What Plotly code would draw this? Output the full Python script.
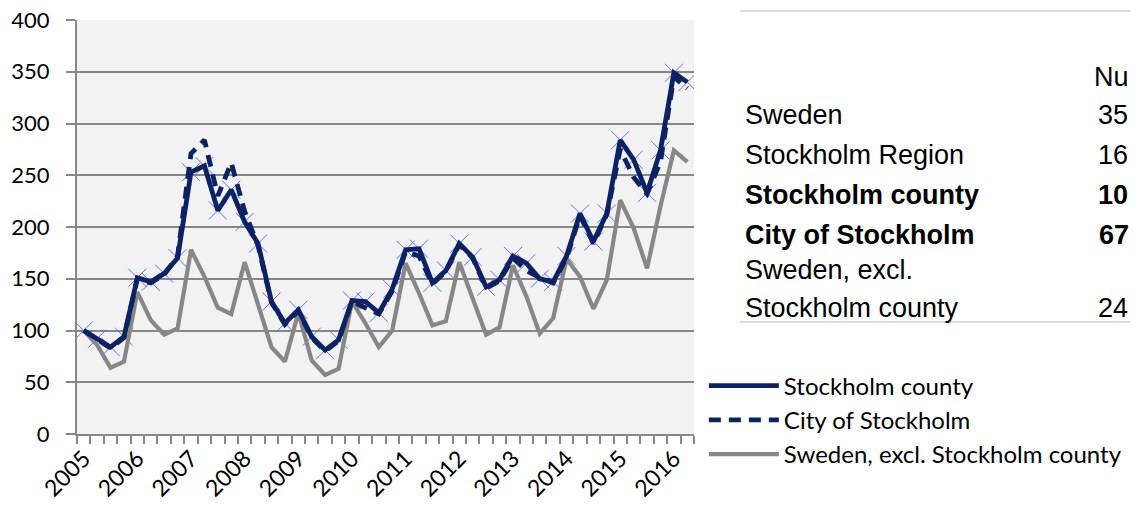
import plotly.graph_objects as go

# quarterly index, 2005 Q1 = 100
quarters = [f"{y}Q{q}" for y in range(2005, 2017) for q in range(1, 5)][:46]
years = [str(y) for y in range(2005, 2017)]

stockholm_county = [100, 92, 84, 94, 151, 147, 155, 170, 253, 259, 216, 236,
                    205, 184, 128, 107, 120, 94, 81, 91, 129, 128, 117, 140,
                    178, 179, 146, 158, 184, 171, 142, 149, 172, 165, 150, 147,
                    172, 213, 186, 213, 284, 265, 233, 274, 349, 340]
city_of_stockholm = [100, 91, 83, 93, 150, 146, 154, 172, 271, 284, 230, 262,
                     215, 182, 127, 106, 119, 93, 80, 90, 128, 122, 116, 138,
                     176, 172, 145, 157, 183, 170, 141, 148, 170, 158, 151, 146,
                     170, 211, 184, 212, 275, 248, 232, 263, 345, 334]
sweden_excl = [100, 86, 64, 70, 137, 110, 96, 102, 178, 152, 122, 116,
               166, 125, 84, 70, 117, 71, 57, 63, 128, 107, 84, 100,
               165, 136, 105, 109, 166, 131, 96, 103, 163, 133, 97, 112,
               169, 152, 121, 149, 226, 199, 160, 220, 274, 263]

# side table (cut off at the right edge in the original)
table_header = "Nu"
table_rows = ["Sweden", "Stockholm Region", "<b>Stockholm county</b>",
              "<b>City of Stockholm</b>", "Sweden, excl.", "Stockholm county"]
table_nums = ["35", "16", "<b>10</b>", "<b>67</b>", "", "24"]

NAVY = "#0b2265"
GREY = "#878787"

x = list(range(len(quarters)))

fig = go.Figure()
fig.add_trace(go.Scatter(x=x, y=stockholm_county, mode="markers", showlegend=False,
                         marker=dict(symbol="x-thin-open", size=18,
                                     line=dict(color="#d6d1e8", width=1)),
                         hoverinfo="skip"))
fig.add_trace(go.Scatter(x=x, y=sweden_excl, mode="lines",
                         name="Sweden, excl. Stockholm county",
                         line=dict(color=GREY, width=4.2)))
fig.add_trace(go.Scatter(x=x, y=city_of_stockholm, mode="lines",
                         name="City of Stockholm",
                         line=dict(color=NAVY, width=4.8, dash="12px,8px")))
fig.add_trace(go.Scatter(x=x, y=stockholm_county, mode="lines",
                         name="Stockholm county",
                         line=dict(color=NAVY, width=4.8)))

fig.update_layout(
    width=1139, height=505,
    margin=dict(l=77, r=440, t=20, b=71),
    paper_bgcolor="white", plot_bgcolor="#f2f2f2",
    font=dict(family="Liberation Sans, Arial", size=18, color="black"),
    legend=dict(x=1.016, y=0.17, xanchor="left", yanchor="top",
                traceorder="reversed", itemwidth=70,
                font=dict(family="Lato", size=24),
                bgcolor="rgba(0,0,0,0)"),
)
fig.update_xaxes(range=[-0.5, 45.5], tickvals=x[::4], ticktext=years,
                 tickangle=-45, ticks="", showgrid=False, zeroline=False,
                 tickfont=dict(family="Lato", size=23), automargin=False,
                 showline=True, linecolor=GREY, linewidth=2,
                 minor=dict(tickmode="linear", tick0=-0.5, dtick=1, ticks="outside",
                            ticklen=8, tickcolor=GREY, tickwidth=1.5, showgrid=False))
fig.update_yaxes(range=[0, 400], dtick=50, ticks="outside", ticklen=9,
                 tickcolor=GREY, tickwidth=2, gridcolor=GREY, gridwidth=2,
                 tickfont=dict(family="Lato", size=22), ticklabelstandoff=12,
                 ticklabeloverflow="allow", automargin=False,
                 showline=True, linecolor=GREY, linewidth=2, zeroline=False)


def px_x(p):
    return (p - 77) / 622


def px_y(p):
    return (434 - p) / 414


row_y = [115, 155, 195, 235, 270, 308]
for label, num, py in zip(table_rows, table_nums, row_y):
    fig.add_annotation(xref="paper", yref="paper", x=px_x(748), y=px_y(py),
                       text=label, showarrow=False, xanchor="left", yanchor="middle",
                       font=dict(size=27))
    if num:
        fig.add_annotation(xref="paper", yref="paper",
                           x=px_x(1105 if "67" in num else 1104), y=px_y(py),
                           text=num, showarrow=False, xanchor="left", yanchor="middle",
                           font=dict(size=27))
fig.add_annotation(xref="paper", yref="paper", x=px_x(1100), y=px_y(77),
                   text=table_header, showarrow=False, xanchor="left", yanchor="middle",
                   font=dict(size=27))
for py in (11, 322):
    fig.add_shape(type="line", xref="paper", yref="paper",
                  x0=px_x(745), x1=px_x(1139), y0=px_y(py), y1=px_y(py),
                  line=dict(color="#dcdcdc", width=2))

# place the figure at the page origin so it fills the window exactly
fig.write_html("out.html", config={"displayModeBar": False}, post_script=(
    "document.body.style.margin='0';"
    "document.body.style.overflow='hidden';"
    "document.documentElement.style.overflow='hidden';"))
